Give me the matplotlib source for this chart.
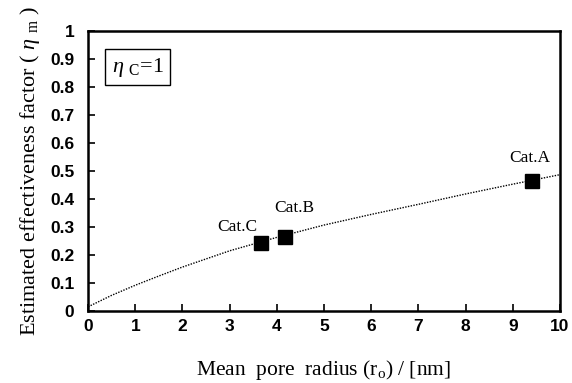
import matplotlib
matplotlib.use("Agg")
import matplotlib.pyplot as plt

plt.rcParams["mathtext.fontset"] = "custom"
plt.rcParams["mathtext.rm"] = "Liberation Serif"
plt.rcParams["mathtext.it"] = "Liberation Serif:italic"

# Curve
curve_x = [0, 0.5, 1, 1.5, 2, 3, 4, 5, 6, 7, 8, 9, 10]
curve_y = [0.015, 0.056, 0.092, 0.125, 0.157, 0.215, 0.263, 0.307, 0.345, 0.381, 0.418, 0.453, 0.487]

# Catalyst points
cat_names = ["Cat.A", "Cat.B", "Cat.C"]
cat_x = [9.4, 4.17, 3.66]
cat_y = [0.463, 0.265, 0.244]

x_ticks = [0, 1, 2, 3, 4, 5, 6, 7, 8, 9, 10]
y_ticks = [0, 0.1, 0.2, 0.3, 0.4, 0.5, 0.6, 0.7, 0.8, 0.9, 1]
y_tick_labels = ["0", "0.1", "0.2", "0.3", "0.4", "0.5", "0.6", "0.7", "0.8", "0.9", "1"]

fig = plt.figure(figsize=(5.72, 3.83), dpi=100)
ax = fig.add_axes([0.154, 0.188, 0.825, 0.731])

ax.plot(curve_x, curve_y, linestyle=(0, (1, 1)), color="black", linewidth=1.0)
ax.plot(cat_x, cat_y, linestyle="none", marker="s", markersize=9.5, color="black")

label_pos = {"Cat.A": (-0.05, 0.083), "Cat.B": (0.19, 0.103), "Cat.C": (-0.5, 0.056)}
for n, x, y in zip(cat_names, cat_x, cat_y):
    dx, dy = label_pos[n]
    ax.text(x + dx, y + dy, n, ha="center", va="center", fontsize=12.5,
            family="Liberation Serif")

ax.set_xlim(0, 10)
ax.set_ylim(0, 1)
ax.set_xticks(x_ticks)
ax.set_yticks(y_ticks)
ax.set_xticklabels([str(t) for t in x_ticks], fontsize=12.5, fontweight="bold",
                   family="Liberation Sans")
ax.set_yticklabels(y_tick_labels, fontsize=12.5, fontweight="bold",
                   family="Liberation Sans")
ax.tick_params(axis="x", direction="in", length=5, width=1.2, pad=6)
ax.tick_params(axis="y", direction="in", length=5, width=1.2, pad=10)
for s in ax.spines.values():
    s.set_linewidth(1.8)

ax.set_xlabel(r"Mean  pore  radius (r$_\mathregular{o}$) / [nm]", fontsize=15.5,
              family="Liberation Serif", labelpad=17)
ax.set_ylabel(r"Estimated effectiveness factor ( $\it{\eta}$ $_\mathregular{m}$ )",
              fontsize=16, family="Liberation Serif", labelpad=6)

ax.text(0.05, 0.871, r"$\it{\eta}$ $_\mathregular{C}$=1", transform=ax.transAxes,
        fontsize=16, family="Liberation Serif", ha="left", va="center",
        bbox=dict(boxstyle="square,pad=0.3", facecolor="white", edgecolor="black",
                  linewidth=1.0))

fig.savefig("out.png", dpi=100)
